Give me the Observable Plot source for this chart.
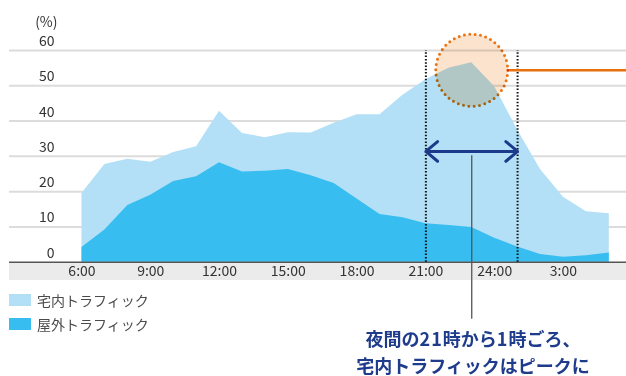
<!DOCTYPE html>
<html>
<head>
<meta charset="utf-8">
<script src="https://cdn.jsdelivr.net/npm/d3@7"></script>
<script src="https://cdn.jsdelivr.net/npm/@observablehq/plot@0.6"></script>
<style>
  body { margin: 0; background: #fff; font-family: "Noto Sans CJK JP", "Noto Sans", sans-serif; }
  #wrap { position: relative; width: 626px; height: 376px; overflow: hidden; }
  #band { position: absolute; left: 9px; top: 262px; width: 617px; height: 18px; background: #ebebeb; }
  #chart { position: absolute; left: 0; top: 0; }
  #legend { position: absolute; left: 9px; top: 288px; font-size: 14px; color: #4a4a4a; }
  .row { display: flex; align-items: center; height: 24px; }
  .sw { width: 22px; height: 12px; margin-right: 6px; }
  #note { position: absolute; left: 343px; width: 260px; top: 325px; text-align: center;
          font-weight: bold; font-size: 18px; line-height: 26.5px; color: #1f3c8c; }
  #note .num { letter-spacing: 1px; }
</style>
</head>
<body>
<div id="wrap">
  <div id="band"></div>
  <div id="chart"></div>
  <div id="legend"></div>
  <div id="note"></div>
</div>
<script>
// Hourly share of traffic (%), 6:00 through 5:00 the next morning
const hours = d3.range(6, 30);
const homeTraffic = [19.5, 27.7, 29.2, 28.3, 31.1, 32.7, 42.8, 36.5, 35.3, 36.7, 36.6, 39.4,
                     41.8, 41.8, 47.3, 51.7, 55.0, 56.5, 49.7, 37.5, 26.3, 18.4, 14.3, 13.7];
const outdoorTraffic = [4.2, 9.1, 16.1, 19.0, 22.9, 24.2, 28.2, 25.6, 25.8, 26.3, 24.5, 22.3,
                        17.9, 13.5, 12.6, 10.9, 10.4, 9.8, 6.8, 4.3, 2.2, 1.4, 1.8, 2.6];

const seriesNames = ["宅内トラフィック", "屋外トラフィック"];
const seriesColors = ["#b3e0f6", "#38bdf0"];

const tickHours = [6, 9, 12, 15, 18, 21, 24, 27];
const tickLabels = ["6:00", "9:00", "12:00", "15:00", "18:00", "21:00", "24:00", "3:00"];
const yTicks = [0, 10, 20, 30, 40, 50, 60];

// Annotation: the evening peak window (21:00–1:00) and its highlight
const peakWindow = [21, 25];
const peakHour = 23;
const peakLevel = 54.4;
const arrowLevel = 31.4;
const leaderTop = 30.2;
const leaderBottom = -16.2;
const noteLines = ["夜間の21時から1時ごろ、", "宅内トラフィックはピークに"];

const rows = hours.map((h, i) => ({hour: h, home: homeTraffic[i], outdoor: outdoorTraffic[i]}));
const xDomain = [2.84, 29.75];

const chart = Plot.plot({
  width: 626,
  height: 376,
  marginLeft: 9,
  marginRight: 0,
  marginTop: 50,
  marginBottom: 114.3,
  style: {fontFamily: '"Noto Sans CJK JP", "Noto Sans", sans-serif', background: "transparent"},
  x: {domain: xDomain},
  y: {domain: [0, 60]},
  marks: [
    Plot.ruleY(yTicks.filter(d => d > 0), {stroke: "#dcdcdc", strokeWidth: 2}),
    Plot.areaY(rows, {x: "hour", y: "home", fill: seriesColors[0]}),
    Plot.areaY(rows, {x: "hour", y: "outdoor", fill: seriesColors[1]}),
    Plot.ruleY([0], {stroke: "#555", strokeWidth: 1.5}),
    Plot.ruleX(peakWindow, {y1: 0, y2: 60, stroke: "#111", strokeWidth: 2, strokeDasharray: "1.5 1.8"}),
    Plot.ruleY([peakLevel], {x1: peakHour, x2: xDomain[1], insetLeft: 36, stroke: "#e8700e", strokeWidth: 2.5}),
    Plot.dot([{h: peakHour, v: peakLevel}], {
      x: "h", y: "v", r: 36, fill: "#fbe3cd", stroke: "#ea7414", strokeWidth: 3,
      strokeDasharray: "0 5.4", strokeLinecap: "round", mixBlendMode: "multiply"
    }),
    Plot.arrow([{a: peakHour, b: peakWindow[0], y: arrowLevel}, {a: peakHour, b: peakWindow[1], y: arrowLevel}], {
      x1: "a", x2: "b", y1: "y", y2: "y", bend: 0,
      stroke: "#1c3a8c", strokeWidth: 3, headLength: 15, headAngle: 80
    }),
    Plot.ruleX([peakHour], {y1: leaderTop, y2: leaderBottom, stroke: "#555", strokeWidth: 1.3}),
    Plot.axisY(yTicks, {anchor: "left", tickSize: 0, tickPadding: 0, dx: 45, dy: -9,
                        fontSize: 14, fill: "#333", label: null}),
    Plot.axisX(tickHours, {tickSize: 0, tickPadding: 4, fontSize: 14, fill: "#333", label: null,
                           tickFormat: d => tickLabels[tickHours.indexOf(d)]}),
    Plot.text(["(%)"], {frameAnchor: "top-left", dx: 48, dy: -28, textAnchor: "end", lineAnchor: "middle",
                        fontSize: 14, fill: "#333"})
  ]
});
document.getElementById("chart").append(chart);

// Legend
const legend = document.getElementById("legend");
seriesNames.forEach((name, i) => {
  const row = document.createElement("div");
  row.className = "row";
  const sw = document.createElement("span");
  sw.className = "sw";
  sw.style.background = seriesColors[i];
  const label = document.createElement("span");
  label.textContent = name;
  row.append(sw, label);
  legend.append(row);
});

// Note below the chart; digit runs get a little extra spacing
const note = document.getElementById("note");
noteLines.forEach(line => {
  const d = document.createElement("div");
  line.split(/(\d+)/).forEach(part => {
    if (!part) return;
    if (/^\d+$/.test(part)) {
      const s = document.createElement("span");
      s.className = "num";
      s.textContent = part;
      d.append(s);
    } else {
      d.append(document.createTextNode(part));
    }
  });
  note.append(d);
});
</script>
</body>
</html>
